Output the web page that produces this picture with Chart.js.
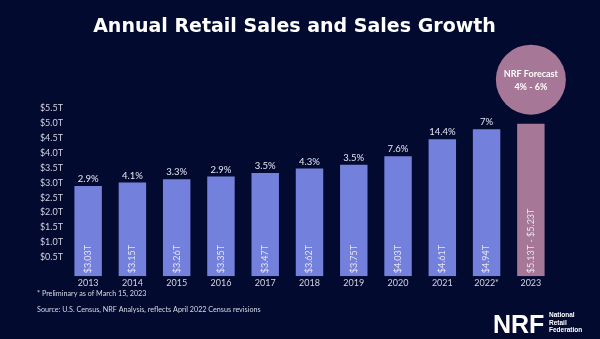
<!DOCTYPE html>
<html>
<head>
<meta charset="utf-8">
<script src="https://cdn.jsdelivr.net/npm/chart.js@4.4.1/dist/chart.umd.min.js"></script>
<style>
  html, body { margin: 0; padding: 0; background: #020a30; }
  #wrap { width: 600px; height: 339px; position: relative; }
</style>
</head>
<body>
<div id="wrap"><canvas id="grafico" width="600" height="339"></canvas></div>
<script>
const anos = ['2013', '2014', '2015', '2016', '2017', '2018', '2019', '2020', '2021', '2022*', '2023'];
const vendas = [3.03, 3.15, 3.26, 3.35, 3.47, 3.62, 3.75, 4.03, 4.61, 4.94, 5.13];
const rotulosVendas = ['$3.03T', '$3.15T', '$3.26T', '$3.35T', '$3.47T', '$3.62T', '$3.75T', '$4.03T', '$4.61T', '$4.94T', '$5.13T - $5.23T'];
const crescimento = ['2.9%', '4.1%', '3.3%', '2.9%', '3.5%', '4.3%', '3.5%', '7.6%', '14.4%', '7%', ''];
const ticksValores = [0.5, 1.0, 1.5, 2.0, 2.5, 3.0, 3.5, 4.0, 4.5, 5.0, 5.5];
const ticksRotulos = ['$0.5T', '$1.0T', '$1.5T', '$2.0T', '$2.5T', '$3.0T', '$3.5T', '$4.0T', '$4.5T', '$5.0T', '$5.5T'];
const previsao = ['NRF Forecast', '4% - 6%'];
const notas = ['* Preliminary as of March 15, 2023', 'Source: U.S. Census, NRF Analysis, reflects April 2022 Census revisions'];

const fonte = 'Lato, "Noto Sans", sans-serif';
const corBarra = '#7481dc';
const corPrevisao = '#a67797';

// rótulos, círculo da previsão, notas e logo
const extras = {
  id: 'extras',
  afterDatasetsDraw(chart) {
    const ctx = chart.ctx;
    const barras = chart.getDatasetMeta(0).data;
    ctx.save();
    barras.forEach((b, i) => {
      // crescimento acima da barra
      if (crescimento[i]) {
        ctx.fillStyle = '#e4e6f4';
        ctx.font = '9.5px ' + fonte;
        ctx.textAlign = 'center';
        ctx.textBaseline = 'alphabetic';
        ctx.fillText(crescimento[i], b.x, b.y - 4);
      }
      // valor dentro da barra, girado
      ctx.save();
      ctx.translate(b.x, b.base - 3);
      ctx.rotate(-Math.PI / 2);
      ctx.fillStyle = '#e6e4f4';
      ctx.font = '9px ' + fonte;
      ctx.textAlign = 'left';
      ctx.textBaseline = 'middle';
      ctx.fillText(rotulosVendas[i], 0, 0);
      ctx.restore();
    });

    // círculo da previsão
    const ult = barras[barras.length - 1];
    const cy = ult.y - 44;
    ctx.beginPath();
    ctx.arc(ult.x, cy, 35, 0, Math.PI * 2);
    ctx.fillStyle = corPrevisao;
    ctx.fill();
    ctx.fillStyle = '#ffffff';
    ctx.font = 'bold 9px ' + fonte;
    ctx.textAlign = 'center';
    ctx.textBaseline = 'middle';
    ctx.fillText(previsao[0], ult.x, cy - 6);
    ctx.fillText(previsao[1], ult.x, cy + 7);

    // notas
    ctx.fillStyle = '#d8d9e6';
    ctx.font = '7.2px ' + fonte;
    ctx.textAlign = 'left';
    ctx.textBaseline = 'middle';
    ctx.fillText(notas[0], 37, 294);
    ctx.fillText(notas[1], 37, 310);

    // logo
    ctx.fillStyle = '#ffffff';
    ctx.font = 'bold 25px "Liberation Sans", sans-serif';
    ctx.textBaseline = 'alphabetic';
    ctx.fillText('NRF', 493, 333);
    ctx.font = 'bold 6.5px "Liberation Sans", sans-serif';
    ctx.fillText('National', 549, 317);
    ctx.fillText('Retail', 549, 324.5);
    ctx.fillText('Federation', 549, 332);
    ctx.restore();
  }
};

new Chart(document.getElementById('grafico'), {
  type: 'bar',
  data: {
    labels: anos,
    datasets: [{
      data: vendas,
      backgroundColor: vendas.map((v, i) => i === vendas.length - 1 ? corPrevisao : corBarra),
      borderWidth: 0,
      barPercentage: 0.62,
      categoryPercentage: 1
    }]
  },
  options: {
    responsive: false,
    animation: false,
    layout: { padding: { left: 36, right: 47, top: 0, bottom: 50 } },
    scales: {
      x: {
        grid: { display: false, drawTicks: false },
        border: { display: false },
        ticks: { color: '#d2d3e2', font: { family: fonte, size: 9 }, padding: 1 }
      },
      y: {
        display: false,
        min: 0,
        max: 6
      },
      yl: {
        position: 'left',
        min: -0.14,
        max: 5.86,
        grid: { display: false, drawTicks: false },
        border: { display: false },
        afterBuildTicks: (s) => { s.ticks = ticksValores.map(v => ({ value: v })); },
        afterFit: (s) => { s.width = 30; },
        ticks: {
          color: '#d2d3e2',
          font: { family: fonte, size: 9 },
          padding: 3,
          callback: (v) => ticksRotulos[ticksValores.indexOf(v)]
        }
      }
    },
    plugins: {
      legend: { display: false },
      tooltip: { enabled: false },
      title: {
        display: true,
        text: 'Annual Retail Sales and Sales Growth',
        color: '#ffffff',
        font: { family: '"DejaVu Sans", sans-serif', size: 19, weight: 'bold' },
        padding: { top: 16, bottom: 59 }
      }
    }
  },
  plugins: [extras]
});
</script>
</body>
</html>
